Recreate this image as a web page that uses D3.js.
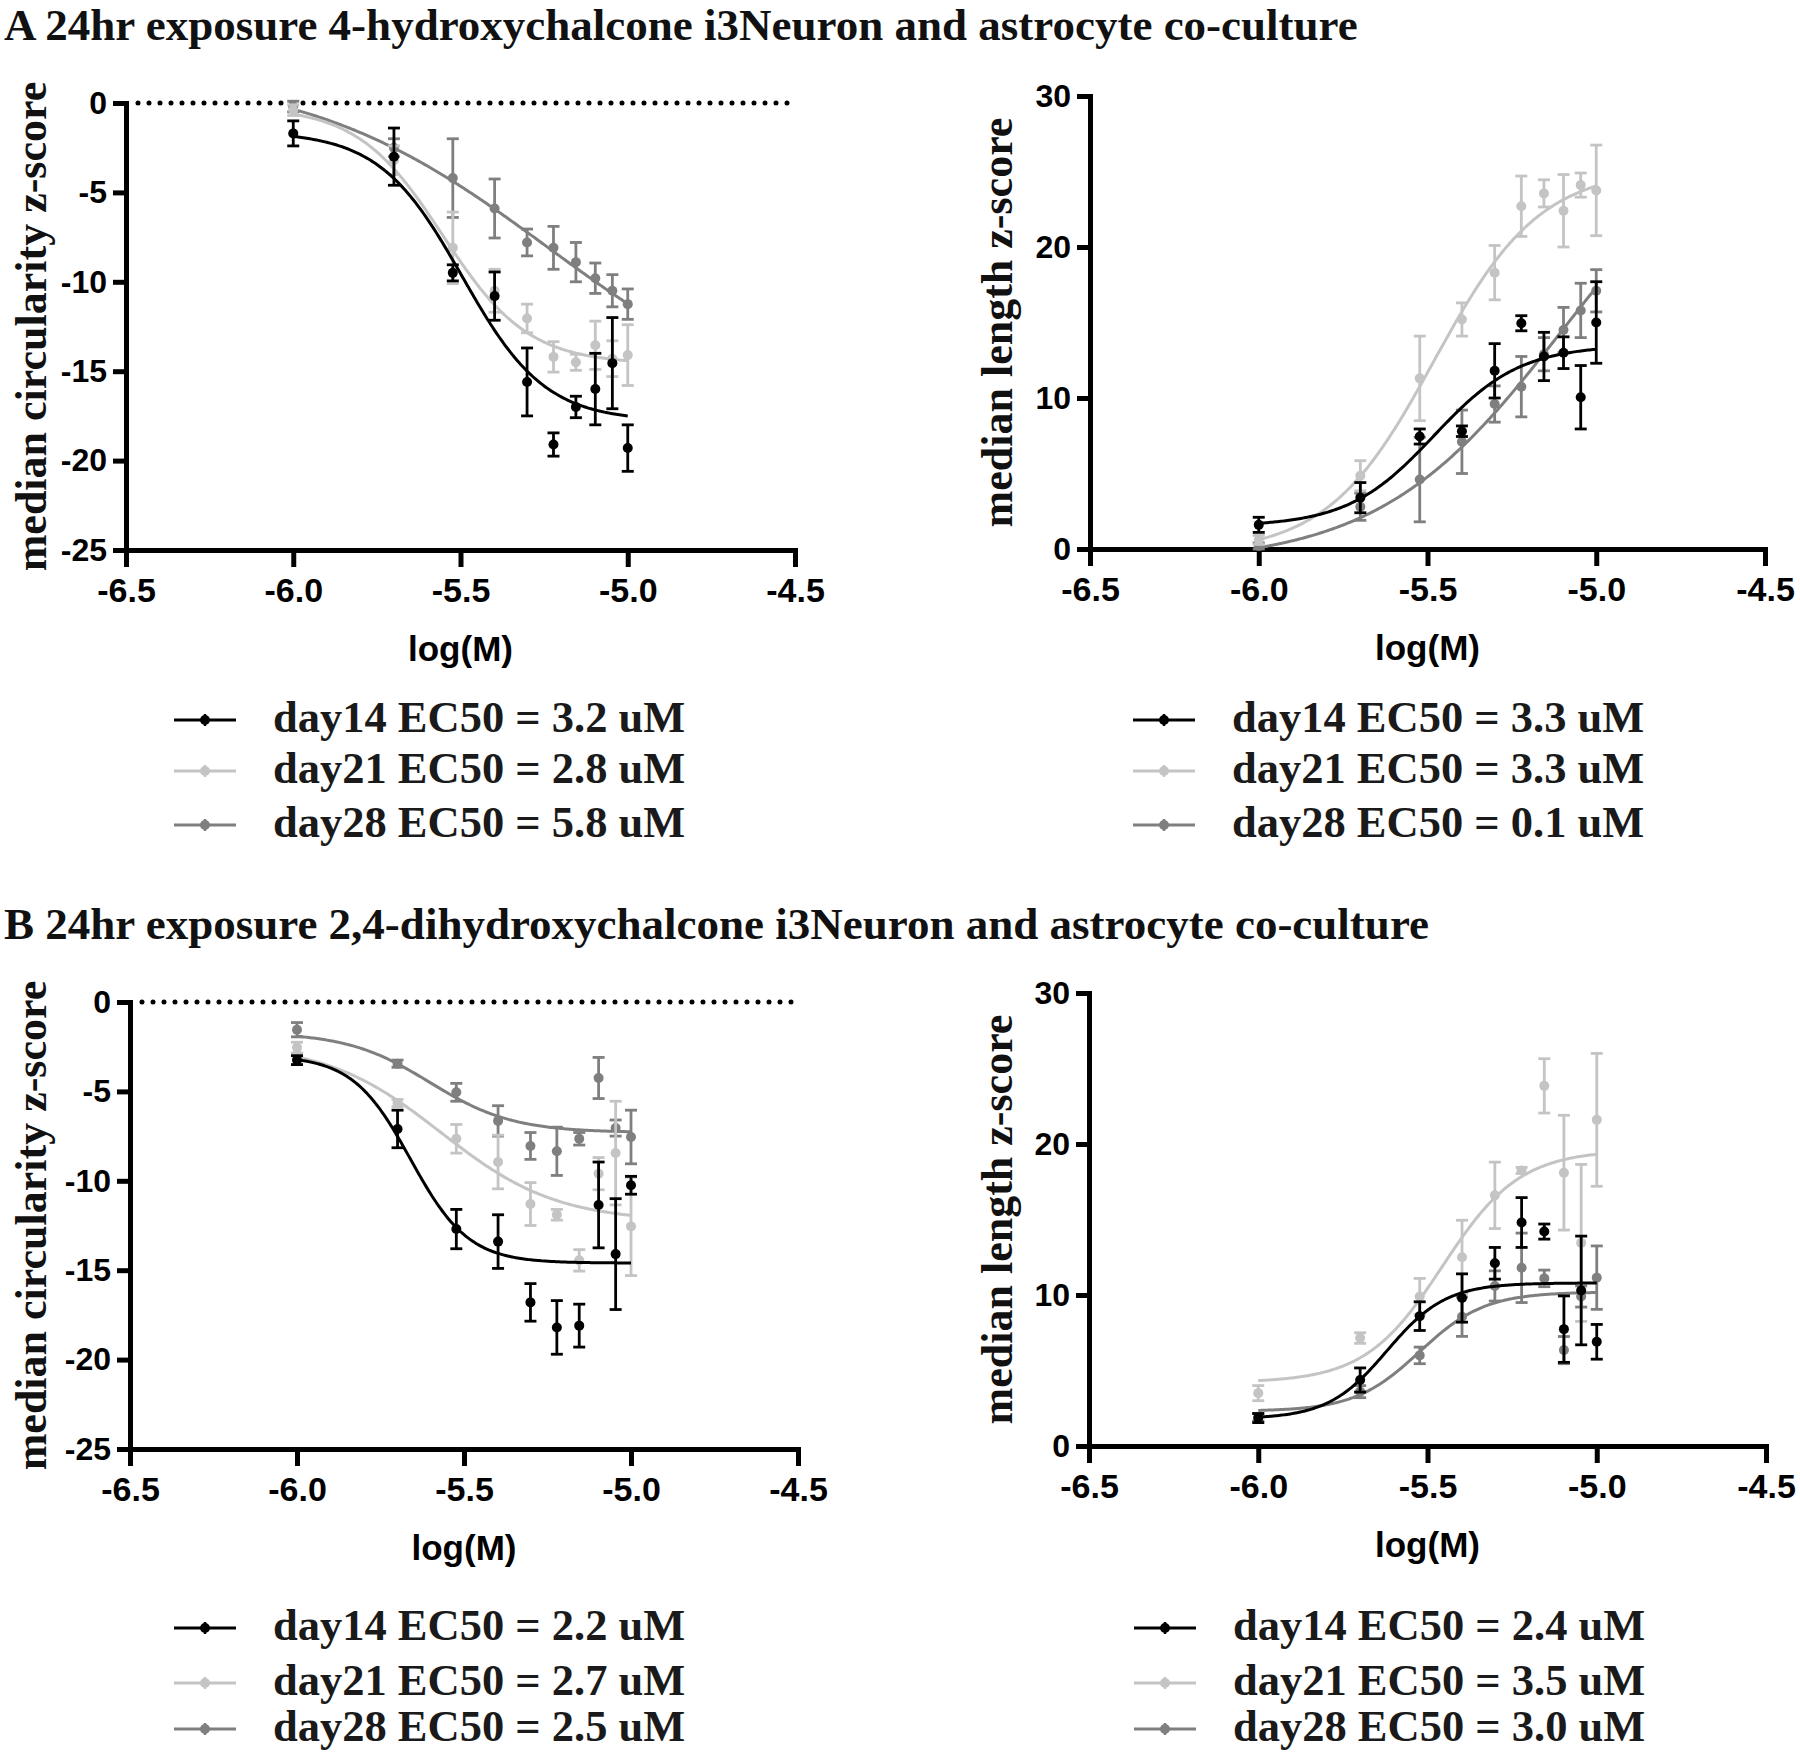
<!DOCTYPE html>
<html><head><meta charset="utf-8">
<script src="https://cdn.jsdelivr.net/npm/d3@7"></script>
<style>body{margin:0;background:#fff} svg{display:block}</style>
</head><body>
<svg id="chart" width="1800" height="1764"></svg>
<script>
// ================= DATA =================
// log10 of concentrations (1..10 uM)
const logConc = [-6.0, -5.699, -5.523, -5.398, -5.301, -5.222, -5.155, -5.097, -5.046, -5.0];
const seriesNames = ["day14", "day21", "day28"];
const xTicks = [-6.5, -6.0, -5.5, -5.0, -4.5];
const circTicks = [0, -5, -10, -15, -20, -25];
const lenTicks = [0, 10, 20, 30];

const titleA = "A 24hr exposure 4-hydroxychalcone i3Neuron and astrocyte co-culture";
const titleB = "B 24hr exposure 2,4-dihydroxychalcone i3Neuron and astrocyte co-culture";
const circTitle = "median circularity z-score";
const lenTitle = "median length z-score";
const xTitle = "log(M)";

// Panel A, circularity
const aCirc14 = [-1.7, -3.0, -9.5, -10.8, -15.6, -19.1, -17.0, -16.0, -14.55, -19.3];
const aCirc14Err = [0.7, 1.6, 0.45, 1.35, 1.9, 0.65, 0.6, 2.0, 2.55, 1.3];
const aCirc21 = [-0.4, -3.2, -8.1, -10.5, -12.05, -14.2, -14.5, -13.55, -14.3, -14.1];
const aCirc21Err = [0.3, 0.8, 2.0, 1.2, 0.8, 0.85, 0.45, 1.35, 1.0, 1.7];
const aCirc28 = [-0.2, -2.5, -4.2, -5.9, -7.8, -8.1, -8.9, -9.8, -10.5, -11.25];
const aCirc28Err = [0.3, 0.5, 2.2, 1.65, 0.75, 1.2, 1.1, 0.85, 0.9, 0.85];
// fit parameters: [bottom, top, logEC50, hillSlope]
const aCircFit14 = [-17.8, -1.6, -5.495, -3.5];
const aCircFit21 = [-14.6, -0.2, -5.553, -3.4];
const aCircFit28 = [-18.0, 1.8, -5.237, -1.2];
const aCircLegend = ["day14 EC50 = 3.2 uM", "day21 EC50 = 2.8 uM", "day28 EC50 = 5.8 uM"];

// Panel A, length
const aLen14 = [1.6, 3.4, 7.45, 7.8, 11.8, 14.95, 12.75, 13.0, 10.05, 15.0];
const aLen14Err = [0.5, 1.0, 0.5, 0.35, 1.8, 0.5, 1.6, 1.05, 2.1, 2.7];
const aLen21 = [0.6, 4.85, 11.3, 15.2, 18.3, 22.7, 23.55, 22.4, 24.1, 23.75];
const aLen21Err = [0.3, 1.0, 2.8, 1.1, 1.8, 2.0, 0.9, 2.4, 0.8, 3.0];
const aLen28 = [0.2, 2.8, 4.6, 7.1, 9.6, 10.75, 12.9, 14.5, 15.8, 17.1];
const aLen28Err = [0.2, 0.9, 2.8, 2.1, 1.2, 2.0, 1.1, 1.5, 1.8, 1.4];
const aLenFit14 = [1.5, 13.5, -5.481, 3.4];
const aLenFit21 = [-0.3, 25.2, -5.481, 2.75];
const aLenFit28 = [-1.0, 30.0, -5.1, 1.6];
const aLenLegend = ["day14 EC50 = 3.3 uM", "day21 EC50 = 3.3 uM", "day28 EC50 = 0.1 uM"];

// Panel B, circularity
const bCirc14 = [-3.25, -7.1, -12.7, -13.4, -16.8, -18.2, -18.1, -11.35, -14.1, -10.25];
const bCirc14Err = [0.25, 1.05, 1.1, 1.5, 1.05, 1.5, 1.2, 2.4, 3.1, 0.5];
const bCirc21 = [-2.55, -5.65, -7.65, -8.95, -11.3, -11.9, -14.45, -9.6, -8.45, -12.55];
const bCirc21Err = [0.3, 0.2, 0.8, 1.5, 1.2, 0.3, 0.6, 0.9, 2.9, 2.75];
const bCirc28 = [-1.55, -3.45, -5.05, -6.65, -8.05, -8.35, -7.65, -4.25, -7.05, -7.55];
const bCirc28Err = [0.4, 0.2, 0.5, 0.85, 0.75, 1.35, 0.35, 1.15, 0.45, 1.5];
const bCircFit14 = [-14.6, -3.0, -5.66, -5.0];
const bCircFit21 = [-12.3, -2.3, -5.569, -2.5];
const bCircFit28 = [-7.3, -1.7, -5.602, -3.5];
const bCircLegend = ["day14 EC50 = 2.2 uM", "day21 EC50 = 2.7 uM", "day28 EC50 = 2.5 uM"];

// Panel B, length
const bLen14 = [1.85, 4.37, 8.6, 9.8, 12.1, 14.8, 14.2, 7.74, 10.3, 6.9];
const bLen14Err = [0.3, 0.8, 0.95, 1.6, 1.05, 1.65, 0.5, 2.2, 3.6, 1.15];
const bLen21 = [3.5, 7.15, 9.9, 12.5, 16.6, 18.25, 23.85, 18.1, 13.45, 21.6];
const bLen21Err = [0.5, 0.35, 1.2, 2.45, 2.2, 0.2, 1.8, 3.8, 5.2, 4.4];
const bLen28 = [1.9, 3.6, 6.0, 8.56, 10.6, 11.8, 11.1, 6.35, 9.9, 11.15];
const bLen28Err = [0.25, 0.4, 0.55, 1.3, 1.0, 2.3, 0.55, 0.9, 0.7, 2.1];
const bLenFit14 = [1.8, 10.8, -5.62, 5.0];
const bLenFit21 = [4.2, 19.6, -5.456, 3.8];
const bLenFit28 = [2.3, 10.2, -5.523, 4.5];
const bLenLegend = ["day14 EC50 = 2.4 uM", "day21 EC50 = 3.5 uM", "day28 EC50 = 3.0 uM"];

// ================= STYLE / LAYOUT =================
const colors = ["#000000", "#c4c4c4", "#7f7f7f"];
const serif = "'Liberation Serif','Times New Roman',serif";
const sans = "'Liberation Sans',Arial,sans-serif";

const svg = d3.select("#chart");

function logistic(p, xv) {
  const [bottom, top, c, h] = p;
  return bottom + (top - bottom) / (1 + Math.pow(10, (c - xv) * h));
}

function drawPanel(cfg) {
  const x = d3.scaleLinear().domain([-6.5, -4.5]).range([cfg.x0, cfg.x1]);
  const y = d3.scaleLinear().domain(cfg.yDomain).range([cfg.yBottom, cfg.yTop]);
  const g = svg.append("g");

  // dotted zero line
  if (cfg.zeroLine) {
    g.append("line")
      .attr("x1", x(-6.5) + 12).attr("x2", x(-4.5))
      .attr("y1", y(0)).attr("y2", y(0))
      .attr("stroke", "#000").attr("stroke-width", 5)
      .attr("stroke-linecap", "round").attr("stroke-dasharray", "0,11");
  }

  // axes
  const xAxis = g.append("g").attr("transform", `translate(0,${cfg.yBottom})`)
    .call(d3.axisBottom(x).tickValues(xTicks).tickFormat(d => d.toFixed(1))
      .tickSizeOuter(0).tickSizeInner(17).tickPadding(11));
  const yAxis = g.append("g").attr("transform", `translate(${cfg.x0},0)`)
    .call(d3.axisLeft(y).tickValues(cfg.yTicks).tickFormat(d => String(d))
      .tickSizeOuter(0).tickSizeInner(13).tickPadding(6));
  [xAxis, yAxis].forEach((a, ai) => {
    a.select(".domain").attr("stroke", "#000").attr("stroke-width", 5).attr("stroke-linecap", "square");
    a.selectAll(".tick line").attr("stroke", "#000").attr("stroke-width", 5);
    a.selectAll(".tick text").attr("fill", "#000").style("font-family", sans)
      .style("font-weight", "bold").style("font-size", ai === 0 ? "34px" : "32px");
  });

  // axis titles
  g.append("text").attr("x", (cfg.x0 + cfg.x1) / 2).attr("y", cfg.yBottom + 111)
    .attr("text-anchor", "middle").style("font-family", sans).style("font-weight", "bold")
    .style("font-size", "35px").text(xTitle);
  g.append("text")
    .attr("transform", `translate(${cfg.yTitleX},${(cfg.yTop + cfg.yBottom) / 2}) rotate(-90)`)
    .attr("text-anchor", "middle").style("font-family", serif).style("font-weight", "bold")
    .style("font-size", "44px").attr("fill", "#111").text(cfg.yTitle);

  // series
  const order = [2, 1, 0];
  const line = d3.line().x(d => x(d[0])).y(d => y(d[1])).curve(d3.curveLinear);
  order.forEach(i => {
    const s = cfg.series[i];
    const col = colors[i];
    const xs = d3.range(-6.0, -4.9999, 0.005);
    g.append("path").datum(xs.map(v => [v, logistic(s.fit, v)]))
      .attr("d", line).attr("fill", "none").attr("stroke", col).attr("stroke-width", 3);
    const eg = g.append("g");
    logConc.forEach((lc, k) => {
      const m = s.mean[k], e = s.err[k];
      const cx = x(lc);
      eg.append("line").attr("x1", cx).attr("x2", cx).attr("y1", y(m - e)).attr("y2", y(m + e))
        .attr("stroke", col).attr("stroke-width", 2.8);
      [m - e, m + e].forEach(v => eg.append("line").attr("x1", cx - 6).attr("x2", cx + 6)
        .attr("y1", y(v)).attr("y2", y(v)).attr("stroke", col).attr("stroke-width", 2.8));
      eg.append("circle").attr("cx", cx).attr("cy", y(m)).attr("r", 5).attr("fill", col);
    });
  });

  // legend
  cfg.legend.forEach((label, i) => {
    const ly = cfg.legendY[i];
    const lg = g.append("g");
    lg.append("line").attr("x1", cfg.legendX).attr("x2", cfg.legendX + 62)
      .attr("y1", ly).attr("y2", ly).attr("stroke", colors[i]).attr("stroke-width", 3);
    lg.append("line").attr("x1", cfg.legendX + 31).attr("x2", cfg.legendX + 31)
      .attr("y1", ly - 6).attr("y2", ly + 6).attr("stroke", colors[i]).attr("stroke-width", 2.5);
    lg.append("circle").attr("cx", cfg.legendX + 31).attr("cy", ly).attr("r", 5).attr("fill", colors[i]);
    lg.append("text").attr("x", cfg.legendX + 99).attr("y", ly + 12)
      .style("font-family", serif).style("font-weight", "bold").style("font-size", "44.5px")
      .attr("fill", "#1a1a1a").text(label);
  });
}

// titles
svg.append("text").attr("x", 4).attr("y", 40).style("font-family", serif)
  .style("font-weight", "bold").style("font-size", "45px").attr("fill", "#111").text(titleA);
svg.append("text").attr("x", 4).attr("y", 939).style("font-family", serif)
  .style("font-weight", "bold").style("font-size", "45px").attr("fill", "#111").text(titleB);

drawPanel({
  x0: 126, x1: 795, yBottom: 550, yTop: 103, yDomain: [-25, 0], yTicks: circTicks,
  zeroLine: true, yTitle: circTitle, yTitleX: 46,
  series: [
    {mean: aCirc14, err: aCirc14Err, fit: aCircFit14},
    {mean: aCirc21, err: aCirc21Err, fit: aCircFit21},
    {mean: aCirc28, err: aCirc28Err, fit: aCircFit28}],
  legend: aCircLegend, legendX: 174, legendY: [720, 771, 825]
});
drawPanel({
  x0: 1090, x1: 1765, yBottom: 549, yTop: 96, yDomain: [0, 30], yTicks: lenTicks,
  zeroLine: false, yTitle: lenTitle, yTitleX: 1012,
  series: [
    {mean: aLen14, err: aLen14Err, fit: aLenFit14},
    {mean: aLen21, err: aLen21Err, fit: aLenFit21},
    {mean: aLen28, err: aLen28Err, fit: aLenFit28}],
  legend: aLenLegend, legendX: 1133, legendY: [720, 771, 825]
});
drawPanel({
  x0: 130, x1: 798, yBottom: 1449, yTop: 1002, yDomain: [-25, 0], yTicks: circTicks,
  zeroLine: true, yTitle: circTitle, yTitleX: 46,
  series: [
    {mean: bCirc14, err: bCirc14Err, fit: bCircFit14},
    {mean: bCirc21, err: bCirc21Err, fit: bCircFit21},
    {mean: bCirc28, err: bCirc28Err, fit: bCircFit28}],
  legend: bCircLegend, legendX: 174, legendY: [1628, 1683, 1729]
});
drawPanel({
  x0: 1089, x1: 1766, yBottom: 1446, yTop: 993, yDomain: [0, 30], yTicks: lenTicks,
  zeroLine: false, yTitle: lenTitle, yTitleX: 1012,
  series: [
    {mean: bLen14, err: bLen14Err, fit: bLenFit14},
    {mean: bLen21, err: bLen21Err, fit: bLenFit21},
    {mean: bLen28, err: bLen28Err, fit: bLenFit28}],
  legend: bLenLegend, legendX: 1134, legendY: [1628, 1683, 1729]
});
</script>
</body></html>
